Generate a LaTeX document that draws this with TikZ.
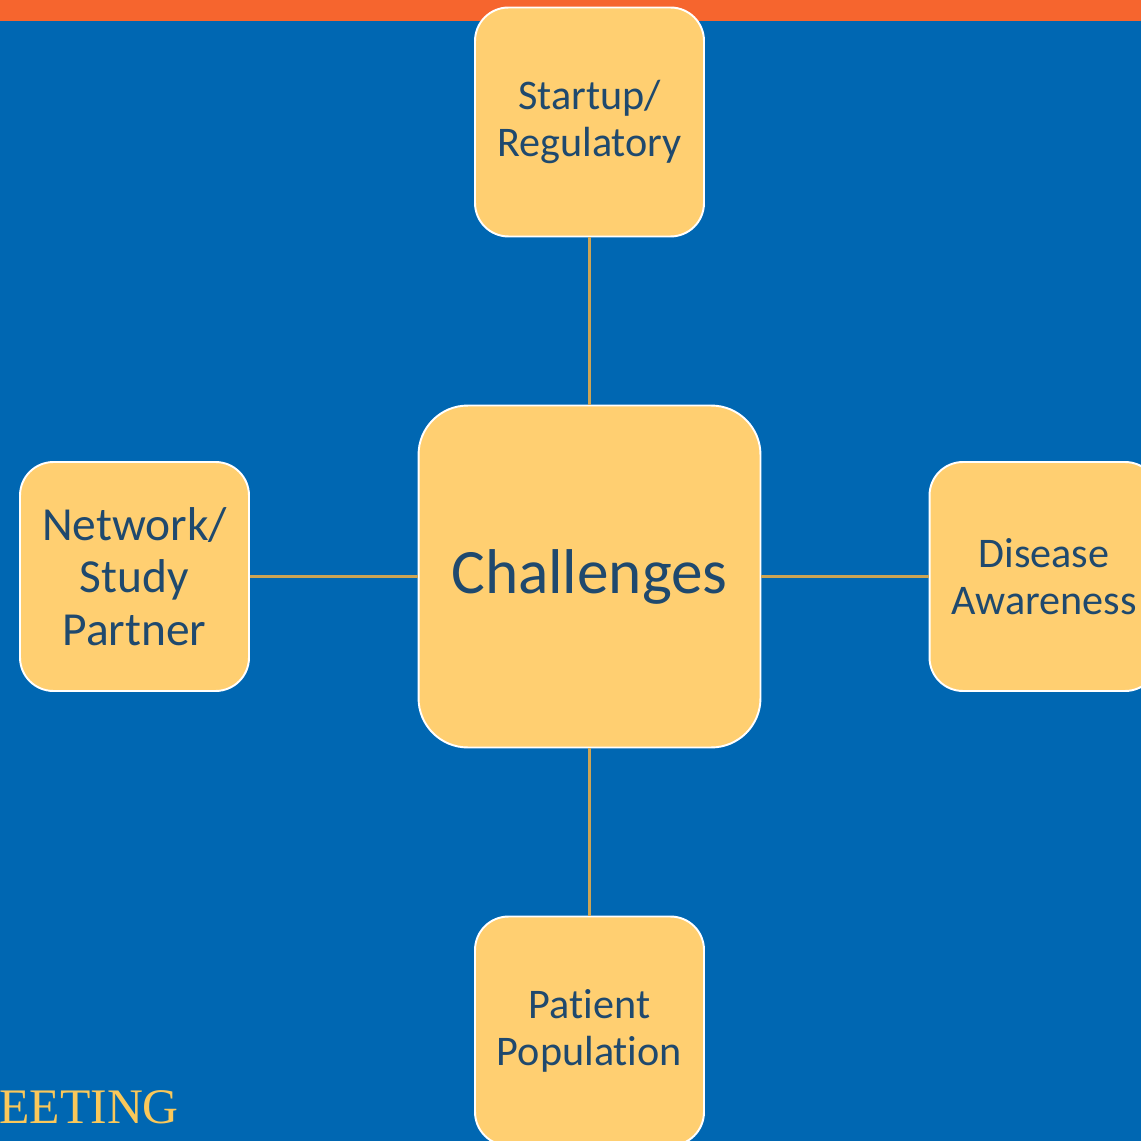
\documentclass[tikz,border=0pt]{standalone}
\usepackage{fontspec}
\setmainfont{Carlito}[RawFeature=-liga]
\newfontfamily\bannerfont{Liberation Serif}
\definecolor{slideblue}{RGB}{0,103,178}
\definecolor{bannerorange}{RGB}{246,101,46}
\definecolor{boxyellow}{RGB}{255,207,113}
\definecolor{textnavy}{RGB}{31,73,110}
\definecolor{linkgold}{RGB}{204,164,84}
\definecolor{bannergold}{RGB}{250,200,90}
\usetikzlibrary{positioning}
\tikzset{
  topic/.style={rectangle, rounded corners=19pt, draw=white, line width=1.1pt,
    fill=boxyellow, text=textnavy, align=center, inner sep=0pt,
    minimum width=4.58cm, minimum height=4.58cm,
    font=\fontsize{24}{26.5}\selectfont},
  link/.style={draw=linkgold, line width=1.4pt},
}

\begin{document}
\begin{tikzpicture}[
  x=0.02cm, y=-0.02cm,
  hub/.style={topic, rounded corners=28pt,
    minimum width=6.84cm, minimum height=6.84cm,
    font=\fontsize{36}{40}\selectfont},
  banner/.style={anchor=base west, inner sep=0pt, text=bannergold,
    font=\bannerfont\fontsize{28.3}{30}\selectfont}
]

\useasboundingbox (0,0) rectangle (1141,1141);
\clip (0,0) rectangle (1141,1141);
\fill[slideblue] (0,0) rectangle (1141,1141);
\fill[bannerorange] (0,0) rectangle (1141,21);

\node[banner] (meeting) at (-1,1123) {EETING};

\node[hub]   (chal) at (589.5,576.5) {\raisebox{-1.5pt}{Challenges}};
\node[topic] (reg)  at (589.5,122)   {Startup/\\Regulatory};
\node[topic, font=\fontsize{27}{30}\selectfont]
             (net)  at (134.5,576.5) {Network/\\Study\\Partner};
\node[topic] (dis)  at (1044,576.5)  {Disease\\Awareness};
\node[topic] (pat)  at (589.5,1031)  {Patient\\Population};

\draw[link] (reg) -- (chal);
\draw[link] (chal) -- (pat);
\draw[link] (net) -- (chal);
\draw[link] (chal) -- (dis);

\end{tikzpicture}
\end{document}
